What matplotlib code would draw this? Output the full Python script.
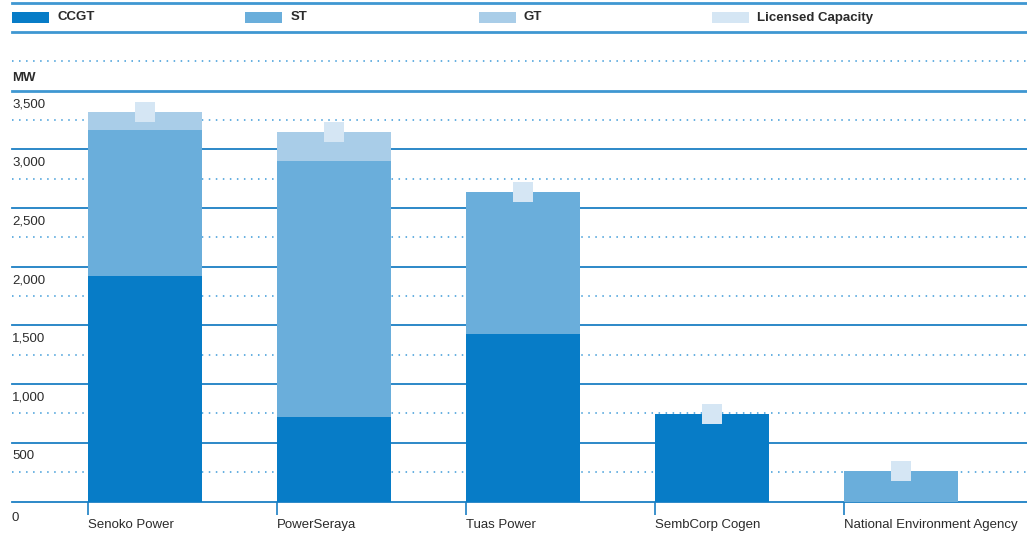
import matplotlib.pyplot as plt
from matplotlib import transforms
from matplotlib.patches import Rectangle

plt.rcParams['font.family'] = ['Liberation Sans', 'DejaVu Sans']

# Generation capacity (MW) by company
companies = ['Senoko Power', 'PowerSeraya', 'Tuas Power', 'SembCorp Cogen',
             'National Environment Agency']
ccgt = [1920, 720, 1430, 745, 0]
st = [1250, 2180, 1210, 0, 260]
gt = [150, 250, 0, 0, 0]
licensed = [3320, 3150, 2640, 745, 260]

y_labels = ['0', '500', '1,000', '1,500', '2,000', '2,500', '3,000', '3,500']
y_label_values = [0, 500, 1000, 1500, 2000, 2500, 3000, 3500]

legend_labels = ['CCGT', 'ST', 'GT', 'Licensed Capacity']
colors = ['#077cc7', '#6aaedb', '#a9cde8', '#d5e6f4']
line_blue = '#1b7fc4'
dot_blue = '#3c9ad8'
frame_blue = '#3f97d2'
text_col = '#2b2b2b'

W, H = 1027, 534
fig = plt.figure(figsize=(W / 100, H / 100), dpi=100)
# axes: left edge at x=12px, zero at y=501.5px, 4000 MW at y=32px
ax = fig.add_axes([12 / W, (H - 501.5) / H, 1 - 12 / W, (501.5 - 32.1) / H])
ax.set_ylim(0, 4000)
ax.set_xlim(-0.7037, 4.667)
for s in ax.spines.values():
    s.set_visible(False)

# grid lines
for v in range(0, 3501, 500):
    if v == 3500:
        ax.axhline(v, color=frame_blue, lw=2.0, zorder=0, clip_on=False)
    else:
        ax.axhline(v, color=line_blue, lw=1.3, zorder=0, clip_on=False)
for v in range(250, 3751, 500):
    ax.axhline(v, color=dot_blue, lw=1.1, ls=(0, (1, 3.6)),
               zorder=0, clip_on=False)
# legend frame lines
ax.axhline(4000, color=frame_blue, lw=2.0, zorder=0, clip_on=False)
ax.axhline(4248, color=frame_blue, lw=2.0, zorder=0, clip_on=False)

x = list(range(len(companies)))
w = 0.603
bottom_st = ccgt
bottom_gt = [a + b for a, b in zip(ccgt, st)]
ax.bar(x, ccgt, width=w, color=colors[0], zorder=2)
ax.bar(x, st, width=w, bottom=bottom_st, color=colors[1], zorder=2)
ax.bar(x, gt, width=w, bottom=bottom_gt, color=colors[2], zorder=2)
ax.scatter(x, licensed, marker='s', s=13.7 ** 2, color=colors[3],
           linewidths=0, zorder=3)

# x ticks at left edge of each bar
ax.set_xticks([i - w / 2 for i in x])
ax.set_xticklabels(companies, ha='left', fontsize=9.5, color=text_col)
ax.tick_params(axis='x', direction='out', length=9, width=1.2,
               color=line_blue, pad=3.5)
ax.set_yticks([])

# y labels sit just below their line
base = transforms.blended_transform_factory(ax.transAxes, ax.transData)
for v, lab in zip(y_label_values, y_labels):
    off = 16.5 if v == 0 else 13.5
    tr = transforms.offset_copy(base, fig=fig, x=0, y=-off, units='dots')
    ax.text(0, v, lab, transform=tr, ha='left', va='center',
            fontsize=9.5, color=text_col)
ax.text(12 / W, 1 - 78 / H, 'MW', transform=fig.transFigure, ha='left',
        va='center', fontsize=9.5, fontweight='bold', color=text_col)

# legend row
for i, (lab, c) in enumerate(zip(legend_labels, colors)):
    x0 = 12 + 233.3 * i
    fig.add_artist(Rectangle((x0 / W, 1 - 22.7 / H), 37 / W, 11 / H,
                             transform=fig.transFigure, color=c, lw=0))
    fig.text((x0 + 45) / W, 1 - 17.5 / H, lab, ha='left', va='center',
             fontsize=9.5, fontweight='bold', color=text_col)

fig.savefig('out.png', dpi=100)
